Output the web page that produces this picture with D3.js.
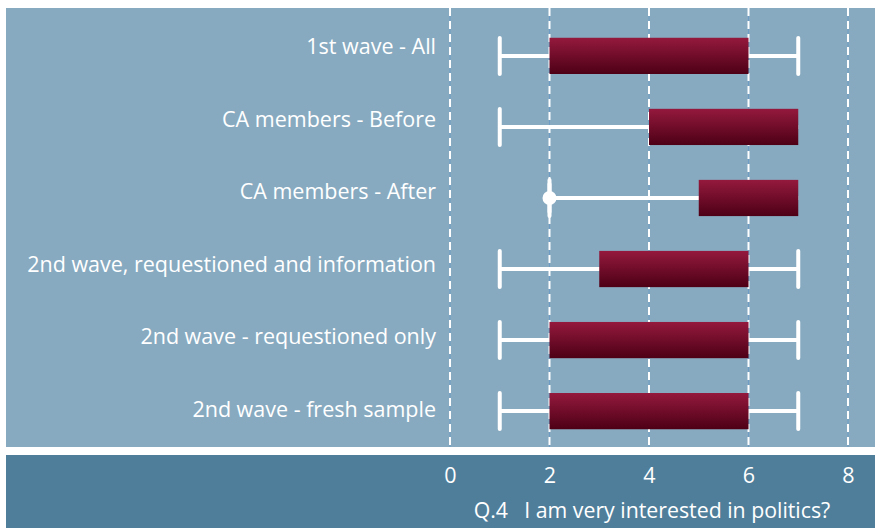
<!DOCTYPE html>
<html>
<head>
<meta charset="utf-8">
<script src="https://cdn.jsdelivr.net/npm/d3@7"></script>
<style>
  body { margin: 0; background: #fff; }
  text { font-family: "Open Sans", sans-serif; fill: #fff; }
</style>
</head>
<body>
<script>
//data
var groups = ["1st wave - All", "CA members - Before", "CA members - After",
              "2nd wave, requestioned and information", "2nd wave - requestioned only",
              "2nd wave - fresh sample"];
var whiskerLow  = [1, 1, 2, 1, 1, 1];
var boxLow      = [2, 4, 5, 3, 2, 2];
var boxHigh     = [6, 7, 7, 6, 6, 6];
var whiskerHigh = [7, 7, 7, 7, 7, 7];
var outliers    = [null, null, 2, null, null, null];
var xTicks = [0, 2, 4, 6, 8];
var xTitle = "Q.4\u2002 I am very interested in politics?";

var width = 875, height = 528;
var svg = d3.select("body").append("svg")
    .attr("width", width)
    .attr("height", height);

//background panels
svg.append("rect").attr("x", 6).attr("y", 8).attr("width", width - 6).attr("height", 439)
    .attr("fill", "#87aac0");
svg.append("rect").attr("x", 6).attr("y", 455).attr("width", width - 6).attr("height", 73)
    .attr("fill", "#4f7e9a");

//gradient for boxes
var grad = svg.append("defs").append("linearGradient")
    .attr("id", "boxGrad").attr("x1", 0).attr("y1", 0).attr("x2", 0).attr("y2", 1);
grad.append("stop").attr("offset", "0%").attr("stop-color", "#94193d");
grad.append("stop").attr("offset", "100%").attr("stop-color", "#4d0016");

var x = d3.scaleLinear().domain([0, 8]).range([450, 848]);
var y = d3.scaleBand().domain(groups).range([20, 447]).paddingInner(0.49).paddingOuter(0.25);
//labels sit on a slightly wider spacing than the boxes
var yLab = d3.scalePoint().domain(groups).range([54, 417]);

//grid lines
var grid = svg.append("g");
grid.selectAll(".gl").data(xTicks).enter().append("line")
    .attr("x1", d => x(d)).attr("x2", d => x(d))
    .attr("y1", 8).attr("y2", 447)
    .attr("stroke", "#6f9cc4").attr("stroke-width", 1);
grid.selectAll(".gd").data(xTicks).enter().append("line")
    .attr("x1", d => x(d)).attr("x2", d => x(d))
    .attr("y1", 8).attr("y2", 447)
    .attr("stroke", "#fff").attr("stroke-width", 2)
    .attr("stroke-dasharray", "8,5");

//labels
svg.selectAll(".lab").data(groups).enter().append("text")
    .attr("x", 436)
    .attr("y", d => yLab(d))
    .attr("text-anchor", "end")
    .attr("font-size", 21.5)
    .text(d => d);

//boxplots
var rows = svg.selectAll(".row").data(groups).enter().append("g");
rows.each(function(d, i){
    var g = d3.select(this);
    var cy = y(d) + y.bandwidth() / 2;
    var h = y.bandwidth();
    //whiskers
    g.append("line").attr("x1", x(whiskerLow[i])).attr("x2", x(whiskerHigh[i]))
        .attr("y1", cy).attr("y2", cy)
        .attr("stroke", "#fff").attr("stroke-width", 4);
    [whiskerLow[i], whiskerHigh[i]].forEach(function(v){
        if (v >= boxLow[i] && v <= boxHigh[i]) return;
        g.append("line").attr("x1", x(v)).attr("x2", x(v))
            .attr("y1", cy - 18).attr("y2", cy + 18)
            .attr("stroke", "#fff").attr("stroke-width", 4).attr("stroke-linecap", "round");
    });
    if (outliers[i] != null){
        g.append("line").attr("x1", x(outliers[i])).attr("x2", x(outliers[i]))
            .attr("y1", cy - 14).attr("y2", cy + 14)
            .attr("stroke", "#fff").attr("stroke-width", 4).attr("stroke-linecap", "round");
        g.append("circle").attr("cx", x(outliers[i])).attr("cy", cy).attr("r", 7)
            .attr("fill", "#fff");
    }
    g.append("rect").attr("x", x(boxLow[i])).attr("width", x(boxHigh[i]) - x(boxLow[i]))
        .attr("y", cy - h / 2).attr("height", h)
        .attr("fill", "url(#boxGrad)");
});

//axis
var axis = svg.append("g").attr("transform", "translate(0,483)")
    .call(d3.axisBottom(x).tickValues(xTicks).tickSize(0).tickPadding(0));
axis.select(".domain").remove();
axis.selectAll("text").attr("font-size", 21.5).attr("fill", "#fff").attr("dy", 0)
    .style("font-family", "'Open Sans', sans-serif");

svg.append("text").attr("x", 652).attr("y", 518).attr("text-anchor", "middle")
    .attr("font-size", 21.3).text(xTitle);
</script>
</body>
</html>
